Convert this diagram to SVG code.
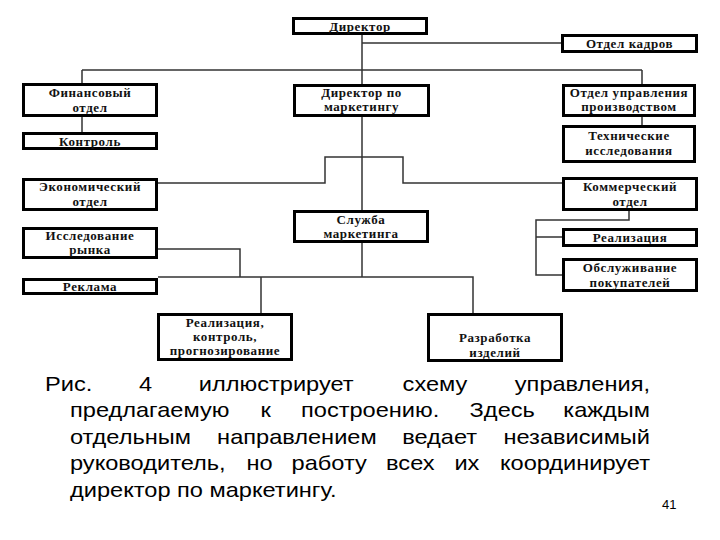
<svg xmlns="http://www.w3.org/2000/svg" width="720" height="540" viewBox="0 0 720 540">
<style>
.box{fill:#fff;stroke:#000;stroke-width:3}
.bt{font-family:"Liberation Serif","Times New Roman",serif;font-weight:bold;font-size:13px;letter-spacing:0.6px;text-anchor:middle;fill:#111}
.con{fill:none;stroke:#333;stroke-width:1.5}
.main{fill:none;stroke:#666;stroke-width:2}
.p{font-family:"Liberation Sans",Arial,sans-serif;font-size:20px;fill:#000}
.e{text-anchor:end}
</style>
<rect width="720" height="540" fill="#fff"/>
<g id="connectors">
<path class="main" d="M362 35V277"/>
<path class="con" d="M362 43H561"/>
<path class="con" d="M82 70H642M82 70V83M642 70V84"/>
<path class="con" d="M82 117V132"/>
<path class="con" d="M642 117V125"/>
<path class="con" d="M158 183H325V157H403V183H562"/>
<path class="con" d="M158 249H240V277"/>
<path class="con" d="M158 277H473V313"/>
<path class="con" d="M261 277V313"/>
<path class="con" d="M629 211V220H536V275H562M536 237H562"/>
</g>
<g id="n-director"><rect class="box" x="293.5" y="18.5" width="133" height="15"/><text class="bt" x="360" y="30.5">Директор</text></g>
<g id="n-kadry"><rect class="box" x="562.5" y="35.5" width="134" height="16"/><text class="bt" x="629.5" y="48">Отдел кадров</text></g>
<g id="n-fin"><rect class="box" x="23.5" y="84.5" width="133" height="31"/><text class="bt" x="90" y="97">Финансовый</text><text class="bt" x="90" y="112">отдел</text></g>
<g id="n-kontrol"><rect class="box" x="23.5" y="133.5" width="133" height="15"/><text class="bt" x="90" y="145.5">Контроль</text></g>
<g id="n-dirmark"><rect class="box" x="294.5" y="85.5" width="134" height="30"/><text class="bt" x="361.5" y="97">Директор по</text><text class="bt" x="361.5" y="111">маркетингу</text></g>
<g id="n-upr"><rect class="box" x="563.5" y="85.5" width="131" height="30"/><text class="bt" x="629" y="97">Отдел управления</text><text class="bt" x="629" y="111">производством</text></g>
<g id="n-tech"><rect class="box" x="563.5" y="126.5" width="131" height="35"/><text class="bt" x="629" y="140">Технические</text><text class="bt" x="629" y="155">исследования</text></g>
<g id="n-econ"><rect class="box" x="23.5" y="179.5" width="133" height="30"/><text class="bt" x="90" y="191">Экономический</text><text class="bt" x="90" y="206">отдел</text></g>
<g id="n-issl"><rect class="box" x="23.5" y="228.5" width="133" height="29"/><text class="bt" x="90" y="240">Исследование</text><text class="bt" x="90" y="254">рынка</text></g>
<g id="n-reklama"><rect class="box" x="23.5" y="279.5" width="133" height="14"/><text class="bt" x="90" y="291">Реклама</text></g>
<g id="n-sluzhba"><rect class="box" x="294.5" y="211.5" width="133" height="30"/><text class="bt" x="361" y="224">Служба</text><text class="bt" x="361" y="238">маркетинга</text></g>
<g id="n-komm"><rect class="box" x="563.5" y="178.5" width="133" height="31"/><text class="bt" x="630" y="191">Коммерческий</text><text class="bt" x="630" y="206">отдел</text></g>
<g id="n-real"><rect class="box" x="563.5" y="229.5" width="133" height="16"/><text class="bt" x="630" y="242">Реализация</text></g>
<g id="n-obsl"><rect class="box" x="563.5" y="259.5" width="133" height="31"/><text class="bt" x="630" y="272">Обслуживание</text><text class="bt" x="630" y="287">покупателей</text></g>
<g id="n-rkp"><rect class="box" x="158.5" y="314.5" width="133" height="45"/><text class="bt" x="225" y="327">Реализация,</text><text class="bt" x="225" y="341">контроль,</text><text class="bt" x="225" y="355">прогнозирование</text></g>
<g id="n-razr"><rect class="box" x="428.5" y="314.5" width="133" height="46"/><text class="bt" x="495" y="342">Разработка</text><text class="bt" x="495" y="357">изделий</text></g>
<g id="caption">
<g transform="scale(1.18,1)">
<text class="p" y="391"><tspan x="38.14">Рис.</tspan><tspan x="117.8">4</tspan><tspan x="168.5">иллюстрирует</tspan><tspan x="341.2">схему</tspan></text><text class="p e" x="550.85" y="391">управления,</text>
<text class="p" y="417"><tspan x="59.32">предлагаемую</tspan><tspan x="220.8">к</tspan><tspan x="255.1">построению.</tspan><tspan x="398">Здесь</tspan></text><text class="p e" x="550.85" y="417">каждым</text>
<text class="p" y="444"><tspan x="59.32">отдельным</tspan><tspan x="184">направлением</tspan><tspan x="340.8">ведает</tspan></text><text class="p e" x="550.85" y="444">независимый</text>
<text class="p" y="470"><tspan x="59.32">руководитель,</tspan><tspan x="208.9">но</tspan><tspan x="247.1">работу</tspan><tspan x="327.2">всех</tspan><tspan x="385.1">их</tspan></text><text class="p e" x="550.85" y="470">координирует</text>
<text class="p" x="59.32" y="497">директор по маркетингу.</text>
</g>
<text x="662" y="509" font-family="Liberation Sans,Arial,sans-serif" font-size="13" fill="#000">41</text>
</g>
</svg>
